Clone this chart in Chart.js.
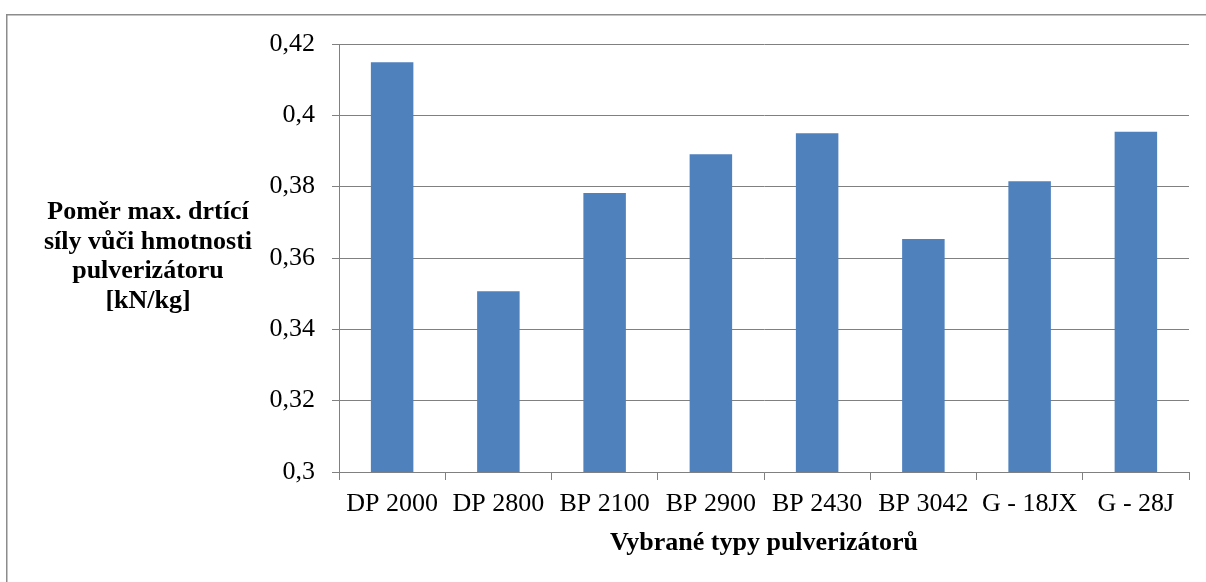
<!DOCTYPE html>
<html>
<head>
<meta charset="utf-8">
<script src="https://cdn.jsdelivr.net/npm/chart.js@4/dist/chart.umd.min.js"></script>
<style>
  html, body { margin: 0; padding: 0; background: #fff; }
  #wrap { position: relative; width: 1206px; height: 582px; }
</style>
</head>
<body>
<div id="wrap"><canvas id="c" width="1206" height="582"></canvas></div>
<script>
const categories = ["DP 2000", "DP 2800", "BP 2100", "BP 2900", "BP 2430", "BP 3042", "G - 18JX", "G - 28J"];
const values = [0.4149, 0.3507, 0.3782, 0.3891, 0.3950, 0.3653, 0.3815, 0.3954];
const yTickValues = [0.3, 0.32, 0.34, 0.36, 0.38, 0.4, 0.42];
const yTitleLines = ["Poměr max. drtící", "síly vůči hmotnosti", "pulverizátoru", "[kN/kg]"];
const xTitle = "Vybrané typy pulverizátorů";

const FONT = "'Liberation Serif', 'Times New Roman', serif";
const GRID = "#808080";

const frameAndTitle = {
  id: 'frameAndTitle',
  beforeDraw(chart) {
    const ctx = chart.ctx;
    ctx.save();
    ctx.fillStyle = '#fff';
    ctx.fillRect(0, 0, chart.width, chart.height);
    ctx.strokeStyle = '#8c8c8c';
    ctx.lineWidth = 1.5;
    ctx.strokeRect(6.75, 14.75, 1300, 700);
    ctx.restore();
  },
  afterDraw(chart) {
    const ctx = chart.ctx;
    ctx.save();
    ctx.fillStyle = '#000';
    ctx.font = "bold 26px " + FONT;
    ctx.textAlign = 'center';
    ctx.textBaseline = 'alphabetic';
    const baselines = [219, 248.5, 278, 307.5];
    yTitleLines.forEach((t, i) => ctx.fillText(t, 148, baselines[i]));
    ctx.restore();
  }
};

new Chart(document.getElementById('c'), {
  type: 'bar',
  data: {
    labels: categories,
    datasets: [{
      data: values,
      backgroundColor: '#4F81BD',
      borderWidth: 0,
      barPercentage: 0.4,
      categoryPercentage: 1.0
    }]
  },
  options: {
    responsive: false,
    animation: false,
    devicePixelRatio: 1,
    layout: { padding: { top: 44, right: 17, left: 0, bottom: 0 } },
    plugins: { legend: { display: false }, tooltip: { enabled: false } },
    scales: {
      x: {
        grid: { display: true, drawOnChartArea: false, drawTicks: true, tickLength: 8, color: GRID, offset: true },
        border: { display: true, color: GRID, width: 1 },
        ticks: { color: '#000', font: { family: FONT, size: 26 }, padding: 9, maxRotation: 0, autoSkip: false },
        title: { display: true, text: xTitle, color: '#000', font: { family: FONT, size: 26, weight: 'bold' }, padding: { top: 0, bottom: 23 } },
        afterFit(s) { s.height = 110; }
      },
      y: {
        min: 0.3,
        max: 0.42,
        afterBuildTicks(s) { s.ticks = yTickValues.map(v => ({ value: v })); },
        grid: { color: GRID, lineWidth: 1, tickLength: 7, drawTicks: true },
        border: { display: true, color: GRID, width: 1 },
        ticks: {
          color: '#000',
          font: { family: FONT, size: 26 },
          padding: 17,
          callback(v) { return String(Math.round(v * 100) / 100).replace('.', ','); }
        },
        afterFit(s) { s.width = 339; }
      }
    }
  },
  plugins: [frameAndTitle]
});
</script>
</body>
</html>
